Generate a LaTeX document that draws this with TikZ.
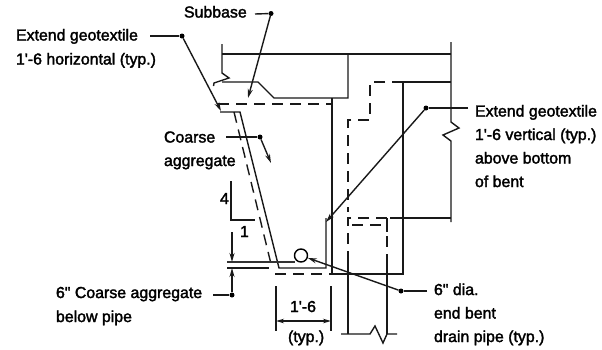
\documentclass[tikz,border=0pt]{standalone}
\usepackage{fontspec}
\newfontfamily\lab{Liberation Sans}[FakeBold=2]
\usetikzlibrary{arrows.meta}
\tikzset{
  x=1pt,y=-1pt,
  lbl/.style={anchor=base west,inner sep=0pt,outer sep=0pt,font=\lab\fontsize{15.9}{18}\selectfont},
  thin line/.style={line width=1.2pt,black!80},
  main/.style={line width=1.4pt,black!90},
  dash line/.style={line width=1.4pt,black!90,dash pattern=on 11pt off 7pt},
  leader/.style={line width=1.4pt,black!90},
  pointer/.style={line width=1.4pt,black!90,-{Stealth[length=9pt,width=5pt]}},
  dimtip/.style={line width=1.3pt,black!90,{Stealth[length=8pt,width=4.5pt]}-{Stealth[length=8pt,width=4.5pt]}},
  blob/.style={circle,fill=black,inner sep=0pt,minimum size=5pt},
}
\begin{document}
\begin{tikzpicture}
\useasboundingbox (0,0) rectangle (602,349);
% labels
\node[lbl] (subbase) at (184,17.5) {Subbase};
\node[lbl] (exth1) at (16,40.5) {Extend geotextile};
\node[lbl] (exth2) at (16,64.5) {1'-6 horizontal (typ.)};
\node[lbl] (coarse1) at (164,142.5) {Coarse};
\node[lbl] (coarse2) at (164,166) {aggregate};
\node[lbl] (extv1) at (475,116.5) {Extend geotextile};
\node[lbl] (extv2) at (475,140) {1'-6 vertical (typ.)};
\node[lbl] (extv3) at (475,163.5) {above bottom};
\node[lbl] (extv4) at (475,187) {of bent};
\node[lbl] (cagg1) at (56,298) {6" Coarse aggregate};
\node[lbl] (cagg2) at (56,322) {below pipe};
\node[lbl] (dia1) at (434,295) {6" dia.};
\node[lbl] (dia2) at (434,318.5) {end bent};
\node[lbl] (dia3) at (434,342) {drain pipe (typ.)};
\node[lbl] (four) at (220,204) {4};
\node[lbl] (one) at (240,237) {1};
\node[lbl] (dimv) at (290,312) {1'-6};
\node[lbl] (typ) at (288,342) {(typ.)};
% structure
\draw[main] (222,44) -- (222,73) -- (229,78) -- (214,83) -- (213.5,86);
\draw[main] (222,54) -- (451,54);
\draw[main] (222,82) -- (258,82) -- (274,98) -- (348,98) -- (348,54);
\draw[main] (332,98) -- (332,274) -- (403,274) -- (403,82);
\draw[main] (392,82) -- (451,82);
\draw[main] (451,42) -- (451,122) -- (459,128) -- (443,135) -- (451,141) -- (451,222);
\draw[main] (390,218) -- (451,218);
\draw[dash line] (385,82) -- (370,82) -- (370,120) -- (348,120) -- (348,212);
\draw[dash line] (387,218) -- (348,218) -- (348,262);
\draw[dash line] (387,218) -- (387,262);
\draw[dash line] (352,225) -- (387,225);
\draw[main] (387,218) -- (387,232);
\draw[main] (348,262) -- (348,334);
\draw[main] (387,262) -- (387,334);
\draw[main] (341,334) -- (370,334) -- (375,326) -- (383,343) -- (387,334) -- (397,334);
% slope
\draw[main] (220,112) -- (240,112) -- (279,268) -- (326,268) -- (326,218);
\draw[dash line] (234,112) -- (272,268);
\draw[dash line] (218,104) -- (332,104);
\draw[dash line] (275,274) -- (332,274);
\draw[thin line] (227,262) -- (295,262);
\draw[main] (227,268) -- (269,268);
\node[draw,circle,line width=1.4pt,inner sep=0pt,minimum size=13pt] (pipe) at (301,255.5) {};
% slope marker
\draw[main] (231,181) -- (231,220) -- (255,220);
% dimension
\coordinate (d1) at (276,321);
\coordinate (d2) at (331,321);
\draw[main] (276,286) -- (276,331);
\draw[main] (331,286) -- (331,331);
\draw[dimtip] (d1) -- (d2);
% leaders
\node[blob] (bs) at (271,13.5) {};
\coordinate (bst) at (248,98);
\draw[leader] (255,14) -- (bs);
\draw[pointer] (bs) -- (bst);
\node[blob] (be) at (182,36) {};
\coordinate (bet) at (221,111);
\draw[leader] (150,36) -- (be);
\draw[pointer] (be) -- (bet);
\node[blob] (bc) at (260,137) {};
\coordinate (bct) at (271,163);
\draw[leader] (226,137) -- (bc);
\draw[pointer] (bc) -- (bct);
\node[blob] (bv) at (426,108) {};
\coordinate (bvt) at (326,222);
\draw[leader] (468,108) -- (bv);
\draw[pointer] (bv) -- (bvt);
\node[blob] (bd) at (401,291) {};
\draw[leader] (427,291) -- (bd);
\draw[pointer] (bd) -- (pipe);
\node[blob] (bg) at (232,295) {};
\coordinate (bgl) at (213,295);
\coordinate (ga) at (232,232);
\coordinate (gb) at (232,262);
\coordinate (gc) at (232,268);
\draw[leader] (bgl) -- (bg);
\draw[pointer] (ga) -- (gb);
\draw[pointer] (bg) -- (gc);
\end{tikzpicture}
\end{document}
